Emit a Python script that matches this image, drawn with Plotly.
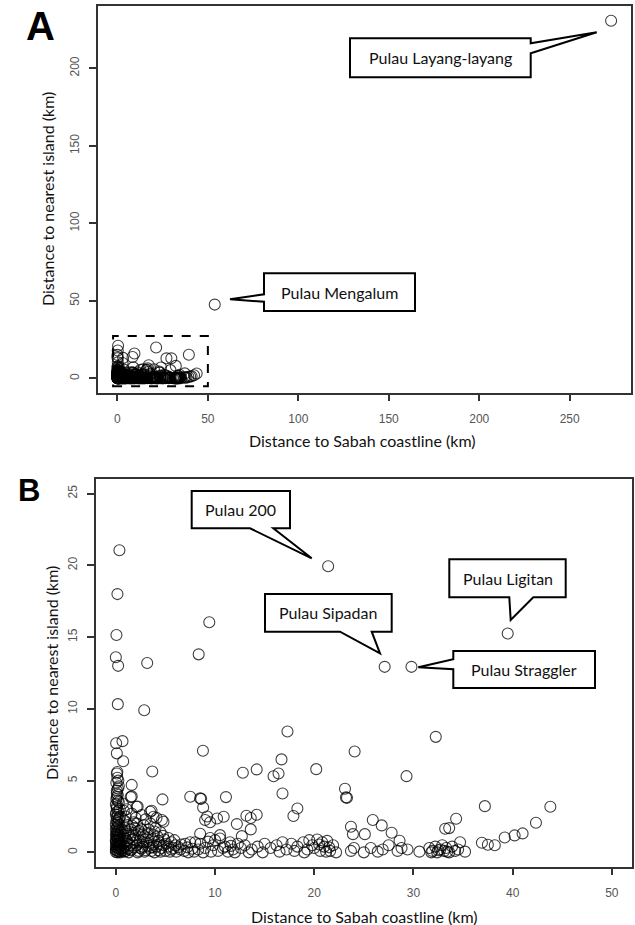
import plotly.graph_objects as go

W, H = 635, 925

# ---------------- data (km) : (distance to Sabah coastline, distance to nearest island)
near_shore = [(0.36,21.05),(0.16,18.0),(0.06,15.15),(0.0,13.6),(0.23,13.0),(0.2,10.33),(0.03,7.6),
              (0.67,7.75),(0.1,6.9),(0.74,6.35),(0.1,5.5),(0.15,5.2),(0.25,5.0),(0.05,4.85),(0.3,4.6),
              (0.1,4.3),(0.2,4.0),(0.05,3.7),(0.3,3.5),(0.1,3.2),(0.4,3.0),(0.05,2.8),(0.2,2.6),
              (0.1,2.45),(0.3,2.3),(0.05,2.2),(0.2,2.05),(0.35,1.9),(0.1,1.75),(0.0,1.6),(0.25,1.5),
              (0.5,1.4),(0.1,1.3),(0.3,1.2),(0.05,1.1),(0.2,1.0),(0.4,0.95),(0.0,0.85),(0.15,0.8),
              (0.3,0.7),(0.5,0.65),(0.05,0.6),(0.2,0.5),(0.4,0.45),(0.0,0.4),(0.1,0.3),(0.3,0.25),
              (0.5,0.2),(0.05,0.15),(0.2,0.1),(0.35,0.05),(0.0,0.02),(0.15,0.0),(0.45,0.0),(0.6,0.1),
              (0.7,0.3),(0.55,0.9),(0.6,1.6),(0.45,2.5),(0.15,5.6),(0.2,4.45),(0.1,3.85),
              (0.0,0.2),(0.25,0.35),(0.1,0.55),(0.35,0.6),(0.0,0.75),(0.25,0.9),(0.1,1.05),(0.4,1.15),
              (0.0,1.25),(0.2,1.35),(0.1,1.45),(0.35,1.65),(0.2,1.8),(0.0,1.95),(0.15,2.15),(0.3,2.4),
              (0.0,2.65),(0.25,2.9),(0.1,3.05),(0.0,3.35),(0.2,3.6),(0.1,4.1)]
inshore = [(1.6,4.7),(1.6,3.9),(1.5,3.85),(2.2,3.2),(2.1,3.18),(3.46,2.83),(3.8,2.48),(3.6,2.9),
           (4.1,2.4),(4.64,2.25),(4.8,2.13),(1.6,2.7),(2.0,2.4),(1.8,2.1),(1.0,2.5),(0.8,2.9),(0.7,3.4),
           (1.1,3.0),(2.6,2.6),(3.0,2.3),(2.8,1.9),(1.2,1.9),(0.9,1.7),(1.5,1.6),(2.3,1.5),(3.3,1.6),
           (4.0,1.7),(4.5,1.4),(3.8,1.2),(2.9,1.1),(2.0,1.2),(1.3,1.3),(0.8,1.2),(0.7,0.9),(1.1,0.8),
           (1.7,0.9),(2.4,0.8),(3.1,0.7),(3.6,0.9),(4.3,0.8),(4.9,0.9),(5.3,1.0),(5.6,0.7),(4.8,0.5),
           (4.1,0.4),(3.4,0.3),(2.7,0.4),(2.1,0.5),(1.4,0.5),(0.9,0.4),(1.0,0.1),(1.6,0.2),(2.3,0.1),
           (2.9,0.05),(3.6,0.1),(4.3,0.15),(5.0,0.1),(5.6,0.2),(6.1,0.05),(6.5,0.2),(6.9,0.1),(7.3,0.0),
           (7.7,0.25),(1.3,0.0),(2.6,0.25),(3.9,0.0),(4.6,0.3),(5.3,0.4),(6.0,0.5),(7.0,0.6),(3.67,5.64),
           (2.86,9.9),(3.16,13.2),(4.7,3.69),(1.9,0.65),(2.5,1.05),(3.2,1.35),(1.2,0.25),(0.85,0.05),
           (1.8,0.35),(2.2,0.0),(3.0,0.15),(3.8,0.55),(4.5,0.05),(5.8,0.3),(6.3,0.35),(1.4,1.0),
           (2.7,1.25),(3.5,2.0),(1.9,1.7),(0.9,2.2),
           (0.75,0.15),(1.15,0.6),(1.5,0.15),(1.75,1.2),(2.05,0.85),(2.45,0.3),(2.55,1.6),(2.75,0.7),
           (3.25,0.45),(3.3,1.0),(3.7,0.35),(3.9,1.45),(4.2,1.1),(4.4,0.55),(4.75,1.15),(5.1,0.6),
           (5.45,0.05),(5.9,0.85),(6.6,0.55),(7.2,0.35),(1.05,1.45),(1.65,1.85),(2.15,2.0),(0.85,1.0)]
mid_a = [(7.5,3.87),(8.5,3.76),(8.6,3.73),(8.8,3.13),(8.35,13.8),(9.42,16.04),(8.78,7.08),(11.1,3.85),
         (9.0,2.25),(9.2,2.5),(9.5,2.1),(10.2,2.36),(10.87,2.48),(10.5,1.2),(10.5,0.97),(8.5,1.3),
         (9.5,1.0),(8.0,0.7),(7.5,0.7),(8.5,0.6),(9.0,0.3),(9.8,0.5),(10.3,0.1),(11.0,0.4),(11.5,0.7),
         (8.8,0.0),(9.6,0.05),(10.8,0.3),(11.8,0.2),(12.3,0.6),(12.7,1.13),(12.2,1.97),(13.6,1.6),
         (13.16,2.55),(14.2,2.62),(13.6,2.39),(12.8,5.55),(14.2,5.78),(8.3,0.2),(11.3,0.05),
         (7.9,0.05),(9.3,0.75),(10.0,0.85),(11.6,0.45),(12.0,0.0)]
mid_b = [(15.9,5.3),(16.4,5.5),(16.7,6.48),(17.3,8.42),(16.8,4.1),(17.9,2.53),(18.3,3.06),(20.2,5.8),
         (13.0,0.5),(13.7,0.2),(14.3,0.4),(15.0,0.6),(15.6,0.3),(16.2,0.5),(16.8,0.7),(17.2,0.2),
         (17.7,0.6),(18.3,0.4),(18.9,0.7),(19.3,0.2),(19.8,0.5),(20.3,0.9),(20.6,0.1),(21.0,0.4),
         (21.3,0.8),(21.6,0.1),(21.9,0.5),(22.2,0.0),(20.0,0.3),(21.2,0.05),(19.0,0.0),(18.0,0.1),
         (16.5,0.05),(14.8,0.0),(13.4,0.0),(12.6,0.3),(20.8,0.7),(21.5,0.35),(19.5,0.85),(20.5,0.55)]
far_a = [(23.1,4.43),(23.2,3.83),(23.3,3.8),(24.07,7.03),(21.4,19.94),(23.7,1.78),(23.9,1.27),
         (25.1,1.27),(25.9,2.25),(26.8,1.88),(27.8,1.37),(28.6,0.81),(23.7,0.1),(24.0,0.3),(25.7,0.3),
         (26.4,0.05),(26.9,0.2),(28.4,0.1),(28.8,0.3),(29.4,0.2),(27.1,12.93),(29.8,12.93),(29.3,5.31),
         (27.5,0.5),(25.0,0.0)]
far_b = [(30.6,0.05),(31.6,0.3),(31.9,0.1),(32.2,0.4),(32.4,0.0),(32.7,0.2),(32.9,0.5),(33.1,0.1),
         (33.3,0.3),(33.6,0.0),(33.9,0.4),(34.2,0.1),(34.5,0.2),(31.8,0.0),(32.5,0.15),(33.4,0.05),
         (35.2,0.05),(34.7,0.7),(33.2,1.65),(33.6,1.69),(34.3,2.34),(32.25,8.05),(37.2,3.22),(43.8,3.18),
         (36.9,0.67),(37.5,0.53),(38.2,0.49),(39.2,1.04),(40.2,1.18),(41.0,1.32),(42.35,2.06),(39.5,15.25)]
offshore = [(53.8,47.6),(272.9,230.7)]

label_names = ["Pulau Layang-layang", "Pulau Mengalum", "Pulau 200",
               "Pulau Sipadan", "Pulau Ligitan", "Pulau Straggler"]

x_ticks_a = [0, 50, 100, 150, 200, 250]
y_ticks_a = [0, 50, 100, 150, 200]
x_ticks_b = [0, 10, 20, 30, 40, 50]
y_ticks_b = [0, 5, 10, 15, 20, 25]

all_pts = near_shore + inshore + mid_a + mid_b + far_a + far_b + offshore
coast_km = [p[0] for p in all_pts]
nearest_km = [p[1] for p in all_pts]
sub = [(x, y) for x, y in zip(coast_km, nearest_km) if x <= 50 and y <= 25]
coast_b = [p[0] for p in sub]
nearest_b = [p[1] for p in sub]

# ---------------- layout helpers (pixels -> paper)
def px(x):
    return x / W

def py(y):
    return 1 - y / H

marker = dict(symbol="circle-open", size=11, color="rgba(0,0,0,0.75)", line=dict(width=1.1))

fig = go.Figure()
fig.add_trace(go.Scatter(x=coast_km, y=nearest_km, mode="markers", marker=marker,
                         xaxis="x", yaxis="y", showlegend=False, cliponaxis=True))
fig.add_trace(go.Scatter(x=coast_b, y=nearest_b, mode="markers", marker=marker,
                         xaxis="x2", yaxis="y2", showlegend=False, cliponaxis=True))

tick_font = dict(family="Liberation Sans, Arial, sans-serif", size=12, color="#555")

def ax(domain, rng, vals, yaxis=False):
    d = dict(domain=domain, range=rng, tickvals=vals, showline=True, mirror=True,
             linecolor="#333", linewidth=1.5, ticks="outside", ticklen=7, tickwidth=1.5,
             tickcolor="#333", showgrid=False, zeroline=False, tickfont=tick_font,
             ticklabelstandoff=7, fixedrange=True)
    if yaxis:
        d["tickangle"] = -90
        d["ticklabelstandoff"] = 5
    return d

# Panel A plot box: x 97.7..631, y 6..392.7 ; Panel B: x 96..631.7, y 479.3..866.7
fig.update_layout(
    width=W, height=H, margin=dict(l=0, r=0, t=0, b=0),
    paper_bgcolor="white", plot_bgcolor="white",
    xaxis=dict(ax([px(97.7), px(631)], [-10.9, 283.9], x_ticks_a), anchor="y"),
    yaxis=dict(ax([py(392.7), py(6)], [-9.24, 240.2], y_ticks_a, True), anchor="x"),
    xaxis2=dict(ax([px(96), px(631.7)], [-2, 52], x_ticks_b), anchor="y2"),
    yaxis2=dict(ax([py(866.7), py(479.3)], [-1, 26], y_ticks_b, True), anchor="x2"),
)

title_font = dict(family="Lato, Open Sans, sans-serif", size=16, color="#111")
ann = []
ann.append(dict(text="Distance to Sabah coastline (km)", x=px(362), y=py(440), xref="paper", yref="paper",
                showarrow=False, font=title_font, xanchor="center", yanchor="middle"))
ann.append(dict(text="Distance to Sabah coastline (km)", x=px(364), y=py(916), xref="paper", yref="paper",
                showarrow=False, font=title_font, xanchor="center", yanchor="middle"))
ann.append(dict(text="Distance to nearest island (km)", x=px(47), y=py(199), xref="paper", yref="paper",
                showarrow=False, font=title_font, textangle=-90, xanchor="center", yanchor="middle"))
ann.append(dict(text="Distance to nearest island (km)", x=px(51), y=py(673), xref="paper", yref="paper",
                showarrow=False, font=title_font, textangle=-90, xanchor="center", yanchor="middle"))
letter_font = "Liberation Sans, Arial, sans-serif"
ann.append(dict(text="<b>A</b>", x=px(40), y=py(26), xref="paper", yref="paper", showarrow=False,
                font=dict(family=letter_font, size=40, color="black"), xanchor="center", yanchor="middle"))
ann.append(dict(text="<b>B</b>", x=px(29), y=py(490), xref="paper", yref="paper", showarrow=False,
                font=dict(family=letter_font, size=31, color="black"), xanchor="center", yanchor="middle"))

# ---------------- callouts (pixel geometry): box (x0, y0, x1, y1), wedge side, base pair, tip
callouts = [
    ((350, 38.3, 530.7, 77.3), "right", (43.3, 53.3), (596.7, 32.3)),
    ((264, 273.3, 415, 311), "left", (294.3, 301.7), (230, 299.3)),
    ((191.7, 491, 290, 528.3), "bottom", (250, 273.3), (311.7, 558.3)),
    ((265, 594, 391.7, 631.7), "bottom", (340, 371.7), (380, 653.3)),
    ((449.3, 559.3, 565.7, 597.3), "bottom", (509.3, 533.3), (510.7, 620)),
    ((453.3, 651, 595, 688), "left", (659.3, 669.3), (418.3, 667.3)),
]

shapes = []
callout_font = dict(family="Lato, Open Sans, sans-serif", size=16, color="#111")
for name, (box, side, base, tip) in zip(label_names, callouts):
    x0, y0, x1, y1 = box
    if side == "right":
        pts = [(x0, y0), (x1, y0), (x1, base[0]), tip, (x1, base[1]), (x1, y1), (x0, y1)]
    elif side == "left":
        pts = [(x0, y0), (x1, y0), (x1, y1), (x0, y1), (x0, base[1]), tip, (x0, base[0])]
    else:
        pts = [(x0, y0), (x1, y0), (x1, y1), (base[1], y1), tip, (base[0], y1), (x0, y1)]
    path = "M " + " L ".join(f"{px(a):.5f},{py(b):.5f}" for a, b in pts) + " Z"
    shapes.append(dict(type="path", path=path, xref="paper", yref="paper",
                       line=dict(color="black", width=2), fillcolor="white", layer="above"))
    ann.append(dict(text=name, x=px((x0 + x1) / 2), y=py((y0 + y1) / 2), xref="paper", yref="paper",
                    showarrow=False, font=callout_font, xanchor="center", yanchor="middle"))

# dashed zoom box in panel A (data coordinates)
shapes.append(dict(type="rect", xref="x", yref="y", x0=-2.4, x1=50, y0=-5, y1=27.3,
                   line=dict(color="black", width=2, dash="dash"), fillcolor="rgba(0,0,0,0)"))

fig.update_layout(annotations=ann, shapes=shapes)

fig.write_html("out.html", config={"displayModeBar": False},
               post_script="document.body.style.margin='0';document.body.style.overflow='hidden';")
